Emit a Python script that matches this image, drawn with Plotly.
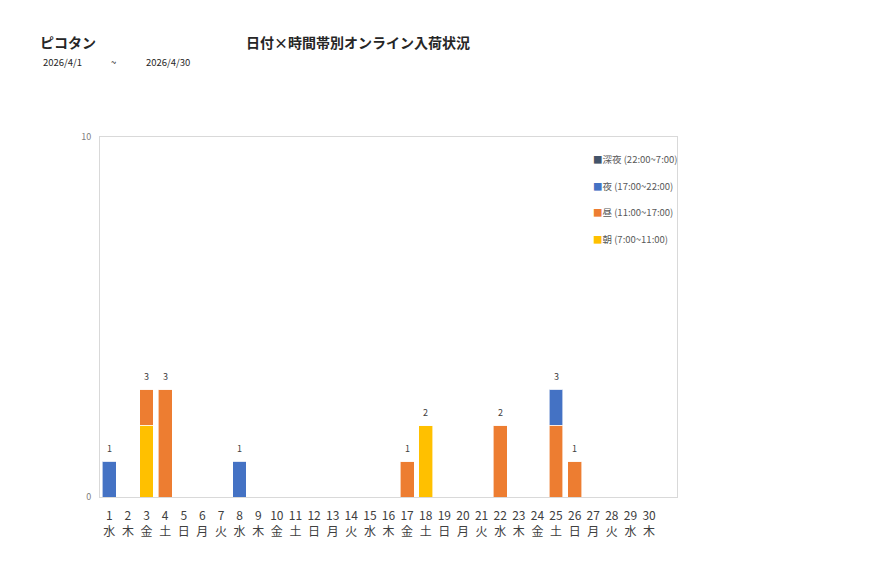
import plotly.graph_objects as go

days = list(range(1, 31))
weekdays = ["水", "木", "金", "土", "日", "月", "火"] * 4 + ["水", "木"]

# 各時間帯の件数（日付順）
asa = [0, 0, 2, 0, 0, 0, 0, 0, 0, 0, 0, 0, 0, 0, 0, 0, 0, 2, 0, 0, 0, 0, 0, 0, 0, 0, 0, 0, 0, 0]
hiru = [0, 0, 1, 3, 0, 0, 0, 0, 0, 0, 0, 0, 0, 0, 0, 0, 1, 0, 0, 0, 0, 2, 0, 0, 2, 1, 0, 0, 0, 0]
yoru = [1, 0, 0, 0, 0, 0, 0, 1, 0, 0, 0, 0, 0, 0, 0, 0, 0, 0, 0, 0, 0, 0, 0, 0, 1, 0, 0, 0, 0, 0]
shinya = [0] * 30

series = [
    ("朝 (7:00~11:00)", asa, "#FFC000"),
    ("昼 (11:00~17:00)", hiru, "#ED7D31"),
    ("夜 (17:00~22:00)", yoru, "#4472C4"),
    ("深夜 (22:00~7:00)", shinya, "#44546A"),
]

totals = [a + b + c + d for a, b, c, d in zip(asa, hiru, yoru, shinya)]

font = "Noto Sans CJK JP"
W, H = 877, 578
# ページ余白 (8px) を差し引いたプロット領域
L, R, T, B = 92, 208, 129, 89


def px_x(x):
    return (x - 8 - L) / (W - L - R)


def px_y(y):
    return (H - (y - 8) - B) / (H - T - B)


fig = go.Figure()
for name, vals, color in series:
    fig.add_trace(go.Bar(
        x=days, y=vals, name=name, showlegend=False,
        marker=dict(color=color, line=dict(color="rgba(255,255,255,0.6)", width=1)),
    ))

annotations = []
# 合計ラベル
for d, t in zip(days, totals):
    if t > 0:
        annotations.append(dict(
            x=d, y=t, xref="x", yref="y", text=str(t), showarrow=False,
            yshift=13, font=dict(size=9, color="#404040"),
        ))

# 凡例（上から深夜・夜・昼・朝）
for i, (name, vals, color) in enumerate(reversed(series)):
    annotations.append(dict(
        x=px_x(591), y=px_y(159 + 26.7 * i), xref="paper", yref="paper",
        text=f"<span style='color:{color}'>■</span>{name}",
        showarrow=False, xanchor="left", yanchor="middle",
        font=dict(size=9.5, color="#595959"),
    ))

annotations += [
    dict(text="<b>ピコタン</b>", x=px_x(38), y=px_y(42),
         xanchor="left", font=dict(size=14, color="#262626")),
    dict(text="<b>日付×時間帯別オンライン入荷状況</b>", x=px_x(358), y=px_y(42),
         xanchor="center", font=dict(size=14, color="#262626")),
    dict(text="2026/4/1", x=px_x(41), y=px_y(62),
         xanchor="left", font=dict(size=9.5, color="#262626")),
    dict(text="~", x=px_x(113), y=px_y(62),
         xanchor="center", font=dict(size=9.5, color="#262626")),
    dict(text="2026/4/30", x=px_x(144), y=px_y(62),
         xanchor="left", font=dict(size=9.5, color="#262626")),
]
for a in annotations[-5:]:
    a.update(xref="paper", yref="paper", showarrow=False, yanchor="middle")

fig.update_layout(
    width=W, height=H,
    barmode="stack", bargap=0.26,
    plot_bgcolor="white", paper_bgcolor="white",
    margin=dict(l=L, r=R, t=T, b=B),
    font=dict(family=font, color="#404040"),
    showlegend=False,
    xaxis=dict(
        range=[0.5, 31.5], tickmode="array", tickvals=days,
        ticktext=[f"{d}<br>{w}" for d, w in zip(days, weekdays)],
        tickfont=dict(size=12, color="#404040"),
        showgrid=False, zeroline=False,
        showline=True, linecolor="#D9D9D9", mirror=True, linewidth=1,
        ticks="", ticklabelstandoff=8,
    ),
    yaxis=dict(
        range=[0, 10], tickvals=[0, 10],
        tickfont=dict(size=9, color="#808080"),
        showgrid=False, zeroline=False,
        showline=True, linecolor="#D9D9D9", mirror=True, linewidth=1,
        ticks="", ticklabelstandoff=6,
    ),
    annotations=annotations,
)

fig.write_html("out.html")
